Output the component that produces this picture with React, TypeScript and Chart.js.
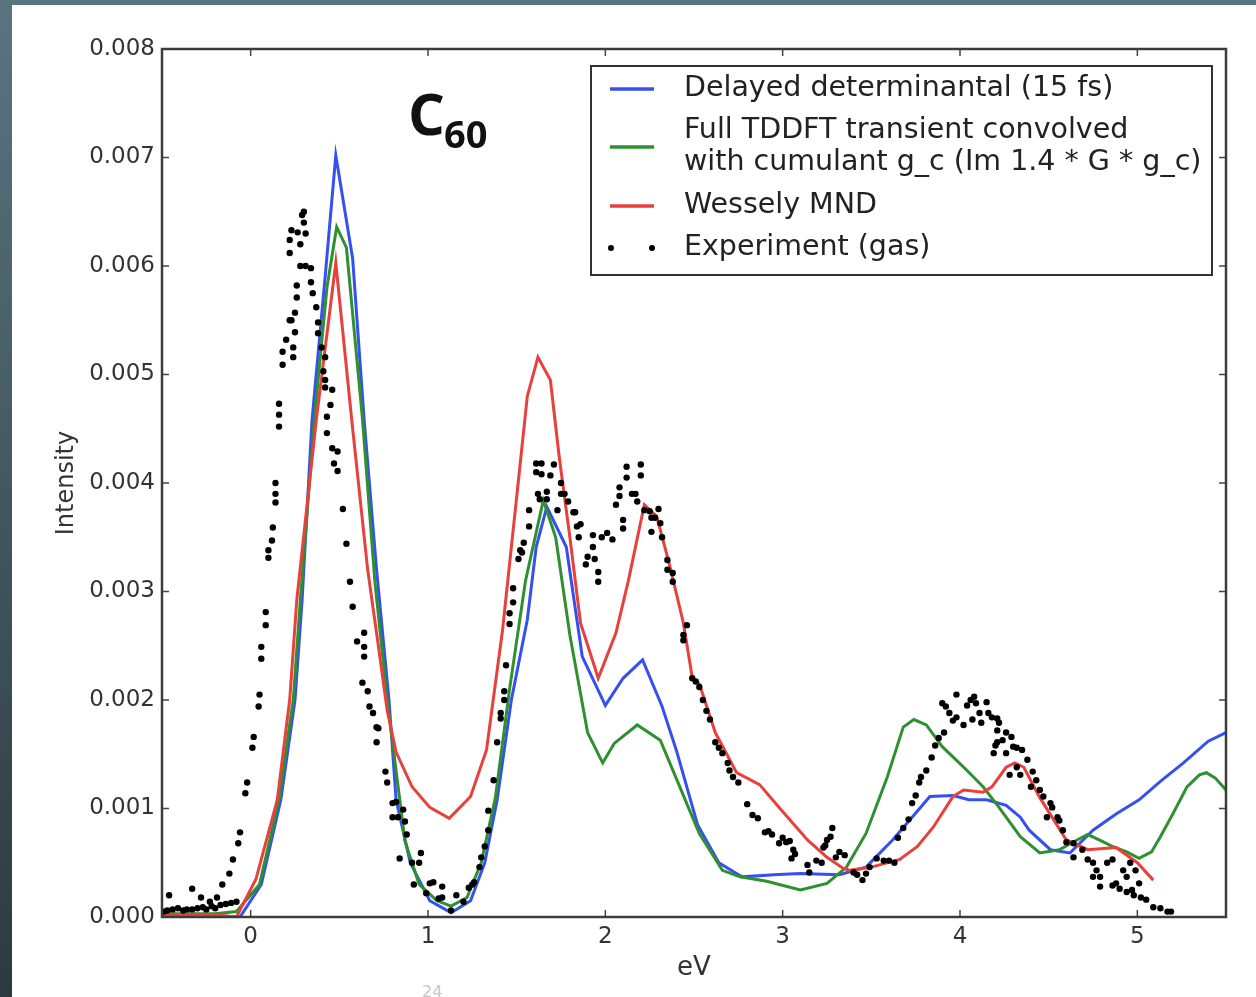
import React, { useEffect, useRef } from "react";
import { Chart, registerables } from "chart.js";

Chart.register(...registerables);

// ---- Data ----
const seriesLabels = [
  "Delayed determinantal (15 fs)",
  "Full TDDFT transient convolved\nwith cumulant g_c (Im 1.4 * G * g_c)",
  "Wessely MND",
  "Experiment (gas)",
];
const seriesColors = ["#3550f2", "#2e902e", "#e8403c", "#000000"];

const blueEv = [-0.5, -0.3, -0.06, 0.06, 0.17, 0.25, 0.29, 0.346, 0.42, 0.48, 0.575, 0.64, 0.71, 0.78, 0.82, 0.9, 1.01, 1.13, 1.24, 1.32, 1.39, 1.47, 1.56, 1.61, 1.67, 1.78, 1.87, 2.0, 2.1, 2.21, 2.32, 2.4, 2.52, 2.64, 2.77, 2.95, 3.1, 3.32, 3.47, 3.62, 3.73, 3.83, 3.96, 4.05, 4.15, 4.26, 4.34, 4.39, 4.51, 4.62, 4.75, 4.88, 5.01, 5.13, 5.26, 5.4, 5.5];
const blueIntensity = [0.00001, 0.00001, 0.0, 0.0003, 0.00108, 0.002, 0.00292, 0.00458, 0.0059, 0.00702, 0.00607, 0.00458, 0.0032, 0.002, 0.00108, 0.0005, 0.00015, 0.00004, 0.00015, 0.0005, 0.00108, 0.002, 0.00274, 0.00341, 0.00378, 0.00341, 0.0024, 0.00195, 0.0022, 0.00237, 0.00194, 0.00154, 0.00085, 0.0005, 0.00037, 0.00039, 0.0004, 0.00039, 0.00046, 0.00071, 0.00092, 0.00111, 0.00112, 0.00108, 0.00108, 0.00103, 0.00092, 0.0008, 0.00062, 0.00059, 0.0008, 0.00095, 0.00108, 0.00125, 0.00142, 0.00162, 0.0017];

const greenEv = [-0.5, -0.2, -0.08, 0.05, 0.16, 0.24, 0.28, 0.36, 0.43, 0.485, 0.54, 0.63, 0.7, 0.77, 0.87, 0.95, 1.05, 1.13, 1.22, 1.3, 1.38, 1.46, 1.55, 1.65, 1.72, 1.8, 1.9, 1.985, 2.05, 2.18, 2.31, 2.42, 2.53, 2.66, 2.76, 2.91, 3.1, 3.25, 3.36, 3.47, 3.59, 3.68, 3.74, 3.81, 3.9, 4.04, 4.13, 4.22, 4.34, 4.45, 4.56, 4.65, 4.72, 4.8, 4.86, 4.94, 5.01, 5.08, 5.13, 5.2, 5.28, 5.35, 5.39, 5.44, 5.5];
const greenIntensity = [0.00003, 0.00003, 0.00005, 0.0003, 0.00108, 0.002, 0.00292, 0.0046, 0.0058, 0.00636, 0.00617, 0.0046, 0.0031, 0.002, 0.0007, 0.0003, 0.00015, 0.0001, 0.00018, 0.0005, 0.0011, 0.0021, 0.0031, 0.00384, 0.0035, 0.0026, 0.0017, 0.00142, 0.0016, 0.00177, 0.00163, 0.0012, 0.00077, 0.00043, 0.00037, 0.00033, 0.00025, 0.00031, 0.00046, 0.00077, 0.00129, 0.00175, 0.00182, 0.00177, 0.00157, 0.00135, 0.0012, 0.00101, 0.00074, 0.00059, 0.00062, 0.0007, 0.00076, 0.0007, 0.00065, 0.0006, 0.00054, 0.0006, 0.00074, 0.00095, 0.0012, 0.00131, 0.00133, 0.00128, 0.00117];

const redEv = [-0.5, -0.2, -0.08, 0.03, 0.15, 0.22, 0.26, 0.37, 0.48, 0.57, 0.66, 0.72, 0.77, 0.82, 0.91, 1.01, 1.12, 1.24, 1.33, 1.42, 1.5, 1.56, 1.62, 1.69, 1.74, 1.8, 1.86, 1.96, 2.06, 2.13, 2.22, 2.29, 2.36, 2.44, 2.49, 2.53, 2.62, 2.74, 2.87, 2.98, 3.14, 3.25, 3.34, 3.38, 3.5, 3.66, 3.76, 3.85, 3.96, 4.02, 4.13, 4.18, 4.26, 4.31, 4.36, 4.45, 4.6, 4.72, 4.88, 5.0, 5.09];
const redIntensity = [0.00002, 0.00002, 0.0, 0.00035, 0.00108, 0.002, 0.00292, 0.00458, 0.00603, 0.00458, 0.0032, 0.0025, 0.0019, 0.00152, 0.0012, 0.00101, 0.00091, 0.00111, 0.00154, 0.00264, 0.00387, 0.0048, 0.00516, 0.00495, 0.00424, 0.0035, 0.00271, 0.0022, 0.00262, 0.0031, 0.0038, 0.00369, 0.00326, 0.00271, 0.00221, 0.00215, 0.0017, 0.00133, 0.00122, 0.00101, 0.00071, 0.00055, 0.00045, 0.00043, 0.00046, 0.00053, 0.00065, 0.00083, 0.00111, 0.00117, 0.00115, 0.0012, 0.00138, 0.00142, 0.00138, 0.0011, 0.00071, 0.00062, 0.00064, 0.0005, 0.00034];

const expEv = [-0.49, -0.47, -0.44, -0.41, -0.38, -0.36, -0.33, -0.3, -0.27, -0.25, -0.22, -0.2, -0.17, -0.14, -0.11, -0.08,
  -0.46, -0.33, -0.28, -0.23, -0.19, -0.16, -0.12, -0.1, -0.07, -0.06, -0.03, -0.02, 0.01, 0.017, 0.045, 0.05, 0.06, 0.06, 0.085, 0.085, 0.1, 0.1, 0.12, 0.125, 0.14, 0.14, 0.14, 0.16, 0.16, 0.16, 0.18, 0.18, 0.2, 0.22, 0.23, 0.24, 0.24, 0.25, 0.25, 0.26, 0.26, 0.22, 0.22, 0.23, 0.265, 0.29, 0.3, 0.3, 0.28, 0.31, 0.28, 0.31, 0.34, 0.34, 0.35, 0.37, 0.38, 0.38, 0.4, 0.42, 0.41, 0.42, 0.42, 0.46, 0.45, 0.43, 0.43, 0.46, 0.49, 0.47, 0.49, 0.52, 0.54, 0.56, 0.575, 0.6, 0.64, 0.64, 0.64, 0.63, 0.66, 0.67, 0.69, 0.71, 0.72, 0.71, 0.76, 0.77, 0.8, 0.82, 0.86, 0.8, 0.83, 0.87, 0.88, 0.84, 0.91, 0.95, 0.96, 0.92, 1.01, 1.03, 0.99, 1.08, 1.08, 1.06, 1.13, 1.16, 1.2, 1.23, 1.25, 1.26, 1.29, 1.3, 1.32, 1.34, 1.34, 1.37, 1.39, 1.41, 1.41, 1.43, 1.43, 1.44, 1.46, 1.46, 1.48, 1.48, 1.51, 1.52, 1.53, 1.54, 1.57, 1.57, 1.61, 1.61, 1.64, 1.64, 1.62, 1.63, 1.67, 1.67, 1.71, 1.69, 1.73, 1.75, 1.75, 1.77, 1.79, 1.82, 1.83, 1.84, 1.86, 1.85, 1.93, 1.93, 1.9, 1.94, 1.89, 1.96, 1.96, 1.98, 2.01, 2.04, 2.06, 2.08, 2.08, 2.1, 2.1, 2.12, 2.12, 2.15, 2.17, 2.18, 2.2, 2.2, 2.22, 2.25, 2.26, 2.28, 2.3, 2.31, 2.26, 2.32, 2.35, 2.35, 2.38, 2.38, 2.46, 2.44, 2.44, 2.49, 2.51, 2.53, 2.55, 2.57, 2.59, 2.62, 2.64, 2.66, 2.69, 2.7, 2.72, 2.75, 2.8, 2.83, 2.86, 2.9, 2.92, 2.94, 3.0, 3.02, 2.98, 3.04, 3.06, 3.07, 3.05, 3.14, 3.15, 3.19, 3.22, 3.23, 3.25, 3.24, 3.27, 3.28, 3.3, 3.32, 3.35, 3.4, 3.42, 3.45, 3.47, 3.49, 3.53, 3.57, 3.6, 3.63, 3.65, 3.68, 3.71, 3.73, 3.75, 3.77, 3.78, 3.81, 3.84, 3.86, 3.88, 3.91, 3.9, 3.92, 3.94, 3.96, 3.98, 3.98, 4.02, 4.04, 4.06, 4.07, 4.08, 4.09, 4.11, 4.12, 4.15, 4.16, 4.18, 4.21, 4.21, 4.22, 4.24, 4.21, 4.2, 4.19, 4.26, 4.29, 4.3, 4.26, 4.32, 4.35, 4.28, 4.32, 4.34, 4.38, 4.41, 4.43, 4.4, 4.45, 4.47, 4.49, 4.51, 4.52, 4.55, 4.56, 4.58, 4.6, 4.64, 4.64, 4.69, 4.72, 4.75, 4.77, 4.79, 4.75, 4.79, 4.83, 4.86, 4.88, 4.92, 4.94, 4.96, 4.97, 4.99, 5.01, 5.05, 5.09, 5.13, 5.17, 5.19, 4.86, 4.9, 4.94, 4.98, 5.02];
const expIntensity = [0.00005, 0.00006, 0.00007, 0.00008, 0.00006, 0.00007, 0.00007, 0.00008, 0.00009, 0.00007, 0.0001, 0.00008, 0.00011, 0.00012, 0.00013, 0.00014,
  0.0002, 0.00026, 0.00018, 0.00014, 0.00018, 0.0003, 0.0004, 0.00053, 0.00068, 0.00078, 0.00114, 0.00124, 0.00156, 0.00166, 0.00194, 0.00205, 0.00238, 0.00249, 0.00269, 0.00281, 0.00331, 0.00338, 0.00347, 0.00359, 0.00382, 0.0039, 0.004, 0.00452, 0.00463, 0.00473, 0.00509, 0.00521, 0.00532, 0.0055, 0.0055, 0.00516, 0.00525, 0.00539, 0.00557, 0.00571, 0.00582, 0.00612, 0.00624, 0.00633, 0.00631, 0.00647, 0.0065, 0.0064, 0.0062, 0.0063, 0.006, 0.006, 0.00598, 0.00585, 0.00575, 0.00562, 0.00548, 0.00538, 0.00525, 0.00516, 0.00503, 0.00495, 0.00488, 0.00486, 0.00472, 0.00461, 0.00446, 0.00432, 0.00429, 0.00418, 0.00411, 0.00376, 0.00344, 0.00309, 0.00286, 0.00254, 0.00262, 0.00249, 0.0024, 0.00216, 0.00208, 0.00194, 0.00188, 0.00175, 0.00174, 0.00161, 0.00134, 0.00124, 0.00105, 0.00106, 0.00099, 0.00092, 0.00092, 0.00088, 0.00076, 0.00054, 0.0005, 0.0005, 0.00059, 0.0003, 0.00031, 0.00032, 0.00022, 0.00028, 0.00018, 0.00017, 0.00006, 0.0002, 0.00014, 0.00027, 0.0003, 0.00032, 0.00046, 0.00055, 0.00065, 0.0008, 0.00098, 0.00126, 0.00161, 0.00183, 0.00188, 0.002, 0.00208, 0.00232, 0.0027, 0.0028, 0.0029, 0.00303, 0.0033, 0.00338, 0.00336, 0.00345, 0.0036, 0.00375, 0.0041, 0.00418, 0.00418, 0.00408, 0.0039, 0.00385, 0.00392, 0.00385, 0.00417, 0.00407, 0.00375, 0.004, 0.0039, 0.0039, 0.00383, 0.00373, 0.00373, 0.0036, 0.00362, 0.0035, 0.00352, 0.00341, 0.00332, 0.0033, 0.00325, 0.00318, 0.00309, 0.0035, 0.00354, 0.00348, 0.0038, 0.00388, 0.00396, 0.00366, 0.00358, 0.00415, 0.00405, 0.0039, 0.0039, 0.00383, 0.00417, 0.00407, 0.00375, 0.00374, 0.00368, 0.00368, 0.00376, 0.00363, 0.00355, 0.0035, 0.00329, 0.0032, 0.00317, 0.00309, 0.00269, 0.0026, 0.00255, 0.0022, 0.00217, 0.00212, 0.002, 0.0019, 0.00182, 0.00161, 0.00156, 0.00151, 0.00142, 0.00135, 0.00129, 0.00124, 0.00104, 0.00094, 0.00091, 0.00078, 0.00079, 0.00076, 0.00073, 0.00069, 0.00068, 0.0007, 0.00062, 0.00058, 0.00054, 0.00048, 0.00041, 0.00052, 0.0005, 0.00064, 0.00071, 0.00066, 0.00074, 0.00082, 0.00055, 0.0006, 0.00057, 0.00041, 0.00039, 0.00034, 0.0004, 0.00046, 0.00054, 0.00052, 0.00052, 0.0005, 0.00073, 0.00082, 0.0009, 0.00105, 0.00112, 0.00124, 0.00129, 0.00135, 0.00147, 0.00158, 0.00165, 0.0017, 0.00197, 0.00194, 0.00188, 0.00181, 0.00205, 0.00184, 0.00177, 0.00195, 0.002, 0.00182, 0.00203, 0.00197, 0.00188, 0.00179, 0.00198, 0.00188, 0.00184, 0.00183, 0.00172, 0.00179, 0.00163, 0.00161, 0.00158, 0.00151, 0.0017, 0.00166, 0.00157, 0.00151, 0.00156, 0.00154, 0.00131, 0.00138, 0.00131, 0.00145, 0.00134, 0.00126, 0.0012, 0.00117, 0.00111, 0.00092, 0.00105, 0.00101, 0.00092, 0.00089, 0.0008, 0.00069, 0.00068, 0.00055, 0.00062, 0.00053, 0.0005, 0.00043, 0.00037, 0.00037, 0.00028, 0.0005, 0.00053, 0.00031, 0.00043, 0.00037, 0.0005, 0.00025, 0.00043, 0.00031, 0.00016, 0.00009, 0.00008, 0.00005, 0.00005, 0.00029, 0.00026, 0.00023, 0.0002, 0.00018];

const xTickValues = [0, 1, 2, 3, 4, 5];
const yTickValues = [0, 0.001, 0.002, 0.003, 0.004, 0.005, 0.006, 0.007, 0.008];
const xAxisLabel = "eV";
const yAxisLabel = "Intensity";
const chartTitleMain = "C";
const chartTitleSub = "60";

const toPoints = (xs: number[], ys: number[]) => xs.map((x, i) => ({ x, y: ys[i] }));

const FONT = '"DejaVu Sans", sans-serif';

const decorPlugin = {
  id: "decor",
  afterDatasetsDraw(chart: any) {
    const { ctx, chartArea: a, scales } = chart;
    ctx.save();
    // inward ticks
    ctx.strokeStyle = "#444";
    ctx.lineWidth = 1.5;
    const seg = (x1: number, y1: number, x2: number, y2: number) => {
      ctx.beginPath();
      ctx.moveTo(x1, y1);
      ctx.lineTo(x2, y2);
      ctx.stroke();
    };
    xTickValues.forEach((v) => {
      const x = scales.x.getPixelForValue(v);
      seg(x, a.bottom, x, a.bottom - 7);
      seg(x, a.top, x, a.top + 7);
    });
    yTickValues.forEach((v) => {
      const y = scales.y.getPixelForValue(v);
      seg(a.left, y, a.left + 7, y);
      seg(a.right, y, a.right - 7, y);
    });
    // frame
    ctx.strokeStyle = "#3c3c3c";
    ctx.lineWidth = 2.5;
    ctx.strokeRect(a.left, a.top, a.right - a.left, a.bottom - a.top);

    // title C60
    ctx.fillStyle = "#111";
    ctx.textBaseline = "alphabetic";
    ctx.textAlign = "left";
    ctx.font = 'bold 58px "Open Sans", sans-serif';
    const tx = a.left + 246;
    ctx.fillText(chartTitleMain, tx, a.top + 86);
    const cw = ctx.measureText(chartTitleMain).width;
    ctx.font = 'bold 38px "Open Sans", sans-serif';
    ctx.fillText(chartTitleSub, tx + cw - 1, a.top + 99);

    // legend
    const bw = 621;
    const bh = 209;
    const bx = a.right - 14 - bw;
    const by = a.top + 17;
    ctx.fillStyle = "#ffffff";
    ctx.fillRect(bx, by, bw, bh);
    ctx.strokeStyle = "#333";
    ctx.lineWidth = 2;
    ctx.strokeRect(bx, by, bw, bh);
    const rowCenters = [23, 81, 140, 182];
    ctx.font = `28.5px ${FONT}`;
    ctx.textBaseline = "middle";
    ctx.fillStyle = "#222";
    seriesLabels.forEach((label, i) => {
      const cy = by + rowCenters[i];
      const lines = label.split("\n");
      if (i < 3) {
        ctx.strokeStyle = seriesColors[i];
        ctx.lineWidth = 3.5;
        seg(bx + 19, cy, bx + 63, cy);
      } else {
        ctx.fillStyle = "#000";
        [bx + 20, bx + 61].forEach((px) => {
          ctx.beginPath();
          ctx.arc(px, cy, 3, 0, Math.PI * 2);
          ctx.fill();
        });
      }
      ctx.fillStyle = "#222";
      const lh = 32;
      lines.forEach((ln, j) => {
        ctx.fillText(ln, bx + 93, cy + (j - (lines.length - 1) / 2) * lh);
      });
    });
    ctx.restore();
  },
};

export default function App() {
  const ref = useRef<HTMLCanvasElement | null>(null);
  useEffect(() => {
    if (!ref.current) return;
    const lineDs = (i: number, xs: number[], ys: number[], order: number) => ({
      label: seriesLabels[i],
      data: toPoints(xs, ys),
      showLine: true,
      borderColor: seriesColors[i],
      backgroundColor: seriesColors[i],
      borderWidth: 3,
      pointRadius: 0,
      tension: 0,
      order,
    });
    const chart = new Chart(ref.current, {
      type: "scatter",
      data: {
        datasets: [
          lineDs(0, blueEv, blueIntensity, 3),
          lineDs(1, greenEv, greenIntensity, 2),
          lineDs(2, redEv, redIntensity, 1),
          {
            label: seriesLabels[3],
            data: toPoints(expEv, expIntensity),
            showLine: false,
            pointRadius: 3.2,
            pointBorderWidth: 0,
            backgroundColor: "#000",
            borderColor: "#000",
            order: 0,
          },
        ],
      },
      options: {
        animation: false,
        responsive: false,
        devicePixelRatio: 1,
        layout: { padding: { left: 0, right: 30, top: 49, bottom: 0 } },
        plugins: { legend: { display: false }, tooltip: { enabled: false } },
        scales: {
          x: {
            type: "linear",
            min: -0.5,
            max: 5.5,
            grid: { display: false, drawTicks: false },
            border: { display: false },
            afterBuildTicks: (s: any) => {
              s.ticks = xTickValues.map((v) => ({ value: v }));
            },
            afterFit: (s: any) => {
              s.height = 80;
            },
            ticks: {
              padding: 6,
              color: "#333",
              font: { family: FONT, size: 23 },
              callback: (v: any) => String(v),
            },
            title: {
              display: true,
              text: xAxisLabel,
              color: "#333",
              font: { family: FONT, size: 26 },
              padding: { top: 0, bottom: 13 },
            },
          },
          y: {
            type: "linear",
            min: 0,
            max: 0.008,
            grid: { display: false, drawTicks: false },
            border: { display: false },
            afterBuildTicks: (s: any) => {
              s.ticks = yTickValues.map((v) => ({ value: v }));
            },
            afterFit: (s: any) => {
              s.width = 162;
            },
            ticks: {
              padding: 7,
              color: "#333",
              font: { family: FONT, size: 23 },
              callback: (v: any) => Number(v).toFixed(3),
            },
            title: {
              display: true,
              text: yAxisLabel,
              color: "#333",
              font: { family: FONT, size: 24 },
              padding: { top: 52, bottom: 0 },
            },
          },
        },
      },
      plugins: [decorPlugin],
    } as any);
    return () => chart.destroy();
  }, []);

  return (
    <div
      style={{
        position: "absolute",
        left: 0,
        top: 0,
        width: 1256,
        height: 997,
        overflow: "hidden",
        background: "linear-gradient(to bottom, #5a7480, #2c3a40)",
      }}
    >
      <div style={{ position: "absolute", left: 12, top: 5, right: 0, bottom: 0, background: "#ffffff" }} />
      <div
        style={{
          position: "absolute",
          left: 422,
          top: 982,
          fontFamily: FONT,
          fontSize: 16,
          color: "#c8c8c8",
        }}
      >
        24
      </div>
      <canvas ref={ref} width={1256} height={997} style={{ position: "absolute", left: 0, top: 0 }} />
    </div>
  );
}
